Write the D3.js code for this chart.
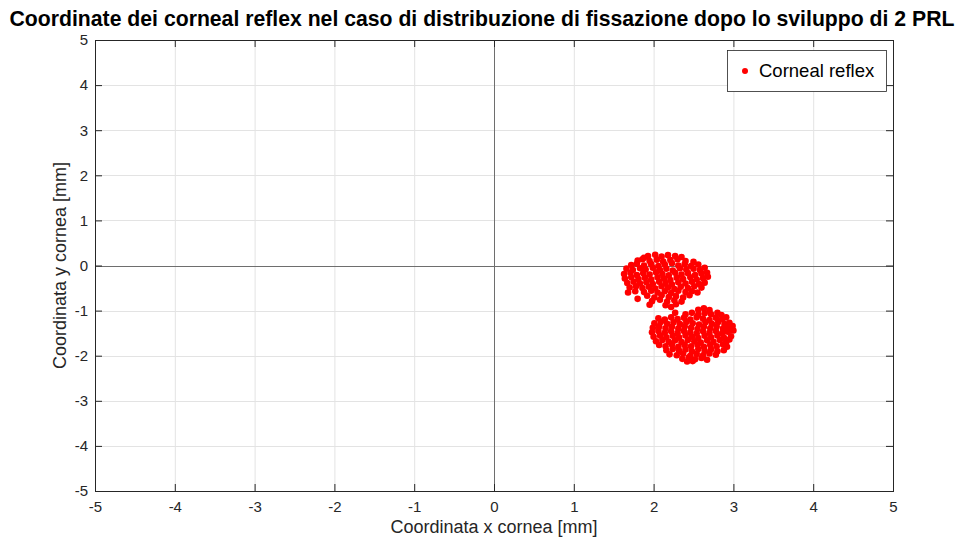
<!DOCTYPE html>
<html><head><meta charset="utf-8">
<script src="https://cdn.jsdelivr.net/npm/d3@7"></script>
<style>body{margin:0;background:#fff}svg{display:block}text{font-family:"Liberation Sans",Arial,Helvetica,sans-serif}</style>
</head><body>
<script>
const titleText = "Coordinate dei corneal reflex nel caso di distribuzione di fissazione dopo lo sviluppo di 2 PRL";
const xLabel = "Coordinata x cornea [mm]";
const yLabel = "Coordinata y cornea [mm]";
const legendLabel = "Corneal reflex";
const xTicks = [-5,-4,-3,-2,-1,0,1,2,3,4,5];
const yTicks = [-5,-4,-3,-2,-1,0,1,2,3,4,5];

const cluster1 = [
[1.93,0.21],[2.02,0.24],[2.10,0.20],[2.18,0.23],[2.27,0.21],[2.35,0.19],[1.88,0.17],
[1.80,0.11],[1.86,0.14],[1.95,0.10],[2.04,0.13],[2.12,0.09],[2.21,0.12],[2.30,0.14],[2.40,0.10],[2.50,0.08],
[1.72,0.01],[1.79,0.04],[1.88,0.00],[1.97,0.03],[2.06,-0.01],[2.14,0.02],[2.23,0.05],[2.31,0.00],[2.39,0.03],[2.47,-0.01],[2.56,0.02],
[1.66,-0.07],[1.74,-0.10],[1.83,-0.06],[1.90,-0.09],[1.99,-0.05],[2.08,-0.10],[2.16,-0.07],[2.24,-0.11],[2.33,-0.06],[2.41,-0.09],[2.50,-0.07],[2.58,-0.10],[2.64,-0.05],
[1.63,-0.19],[1.71,-0.16],[1.79,-0.21],[1.87,-0.17],[1.95,-0.20],[2.03,-0.15],[2.11,-0.19],[2.19,-0.22],[2.27,-0.16],[2.35,-0.20],[2.43,-0.17],[2.52,-0.21],[2.60,-0.18],[2.67,-0.16],
[1.64,-0.29],[1.72,-0.26],[1.81,-0.30],[1.89,-0.27],[1.97,-0.31],[2.05,-0.26],[2.13,-0.29],[2.21,-0.32],[2.29,-0.27],[2.37,-0.30],[2.46,-0.26],[2.54,-0.31],[2.62,-0.28],[2.68,-0.25],
[1.67,-0.39],[1.75,-0.36],[1.83,-0.40],[1.91,-0.37],[1.99,-0.41],[2.07,-0.36],[2.15,-0.39],[2.23,-0.42],[2.31,-0.37],[2.40,-0.40],[2.48,-0.36],[2.57,-0.41],[2.64,-0.38],
[1.70,-0.49],[1.78,-0.46],[1.86,-0.50],[1.94,-0.47],[2.02,-0.51],[2.10,-0.46],[2.18,-0.49],[2.26,-0.52],[2.34,-0.47],[2.43,-0.50],[2.51,-0.46],[2.60,-0.49],
[1.68,-0.60],[1.77,-0.57],[1.88,-0.59],[1.97,-0.56],[2.05,-0.60],[2.14,-0.57],[2.22,-0.61],[2.31,-0.56],[2.40,-0.59],[2.48,-0.57],[2.55,-0.60],
[1.80,-0.74],[1.92,-0.67],[2.01,-0.71],[2.10,-0.66],[2.19,-0.70],[2.28,-0.68],[2.37,-0.71],[2.45,-0.66],
[1.98,-0.79],[2.08,-0.76],[2.17,-0.80],[2.26,-0.77],[2.35,-0.80],
[1.95,-0.87],[2.15,-0.88],[2.28,-0.86],[2.22,-0.92]
];

const cluster2 = [
[2.56,-0.98],[2.63,-0.95],[2.70,-0.99],
[2.27,-1.05],[2.40,-1.08],[2.48,-1.05],[2.56,-1.09],[2.64,-1.06],[2.72,-1.08],[2.80,-1.05],[2.85,-1.10],
[2.06,-1.17],[2.14,-1.20],[2.22,-1.15],[2.30,-1.19],[2.38,-1.16],[2.46,-1.20],[2.54,-1.15],[2.62,-1.18],[2.70,-1.21],[2.78,-1.16],[2.86,-1.19],[2.91,-1.15],
[2.01,-1.28],[2.09,-1.25],[2.17,-1.29],[2.25,-1.26],[2.33,-1.30],[2.41,-1.25],[2.49,-1.28],[2.57,-1.31],[2.65,-1.26],[2.73,-1.29],[2.81,-1.25],[2.89,-1.30],[2.95,-1.27],
[1.99,-1.38],[2.07,-1.35],[2.15,-1.39],[2.23,-1.36],[2.31,-1.40],[2.39,-1.35],[2.47,-1.38],[2.55,-1.41],[2.63,-1.36],[2.71,-1.39],[2.79,-1.35],[2.87,-1.40],[2.94,-1.37],[2.99,-1.34],
[1.98,-1.48],[2.06,-1.45],[2.14,-1.49],[2.22,-1.46],[2.30,-1.50],[2.38,-1.45],[2.46,-1.48],[2.54,-1.51],[2.62,-1.46],[2.70,-1.49],[2.78,-1.45],[2.86,-1.50],[2.93,-1.47],[3.00,-1.44],
[2.00,-1.58],[2.08,-1.55],[2.16,-1.59],[2.24,-1.56],[2.32,-1.60],[2.40,-1.55],[2.48,-1.58],[2.56,-1.61],[2.64,-1.56],[2.72,-1.59],[2.80,-1.55],[2.88,-1.60],[2.97,-1.57],
[2.03,-1.68],[2.11,-1.65],[2.19,-1.69],[2.27,-1.66],[2.35,-1.70],[2.43,-1.65],[2.51,-1.68],[2.59,-1.71],[2.67,-1.66],[2.75,-1.69],[2.83,-1.65],[2.91,-1.70],[2.95,-1.64],
[2.07,-1.76],[2.15,-1.79],[2.23,-1.75],[2.31,-1.80],[2.39,-1.76],[2.47,-1.79],[2.55,-1.75],[2.63,-1.80],[2.71,-1.76],[2.79,-1.79],[2.87,-1.75],[2.92,-1.80],
[2.16,-1.88],[2.24,-1.85],[2.32,-1.89],[2.40,-1.86],[2.48,-1.90],[2.56,-1.85],[2.64,-1.89],[2.72,-1.86],[2.80,-1.90],[2.88,-1.88],
[2.20,-1.97],[2.29,-1.99],[2.37,-1.95],[2.46,-2.00],[2.54,-1.96],[2.62,-1.99],[2.70,-1.95],[2.78,-1.98],
[2.36,-2.07],[2.44,-2.04],[2.52,-2.08],[2.60,-2.05],[2.67,-2.09],
[2.42,-2.13],[2.49,-2.12]
];

const W = 962, H = 537;
const m = {left:95, right:69, top:40, bottom:46};
const iw = W - m.left - m.right, ih = H - m.top - m.bottom;
const axisCol = "#262626";

const svg = d3.select("body").append("svg").attr("width", W).attr("height", H);
const x = d3.scaleLinear().domain([-5,5]).range([m.left, m.left+iw]);
const y = d3.scaleLinear().domain([-5,5]).range([m.top+ih, m.top]);

// grid
const g = svg.append("g");
g.selectAll(".gx").data(xTicks).join("line")
  .attr("x1", d=>x(d)+0.5).attr("x2", d=>x(d)+0.5).attr("y1", m.top).attr("y2", m.top+ih)
  .attr("stroke", "#e3e3e3").attr("stroke-width", 1);
g.selectAll(".gy").data(yTicks).join("line")
  .attr("y1", d=>Math.round(y(d))+0.5).attr("y2", d=>Math.round(y(d))+0.5).attr("x1", m.left).attr("x2", m.left+iw)
  .attr("stroke", "#e3e3e3").attr("stroke-width", 1);

// zero lines
svg.append("line").attr("x1", x(0)+0.5).attr("x2", x(0)+0.5).attr("y1", m.top).attr("y2", m.top+ih)
  .attr("stroke", "#6e6e6e").attr("stroke-width", 1);
svg.append("line").attr("y1", Math.round(y(0))+0.5).attr("y2", Math.round(y(0))+0.5).attr("x1", m.left).attr("x2", m.left+iw)
  .attr("stroke", "#6e6e6e").attr("stroke-width", 1);

// axes
const tl = 7;
const fmt = d => String(d);
const xAxisB = d3.axisBottom(x).tickValues(xTicks).tickSize(-tl).tickPadding(10).tickFormat(fmt);
const xAxisT = d3.axisTop(x).tickValues(xTicks).tickSize(-tl).tickFormat("");
const yAxisL = d3.axisLeft(y).tickValues(yTicks).tickSize(-tl).tickPadding(7).tickFormat(fmt);
const yAxisR = d3.axisRight(y).tickValues(yTicks).tickSize(-tl).tickFormat("");

function style(sel){
  sel.select(".domain").attr("stroke", axisCol);
  sel.selectAll(".tick line").attr("stroke", axisCol);
  sel.selectAll(".tick text").attr("fill", axisCol).style("font-size","15px")
     .style("font-family",'"Liberation Sans",Arial,sans-serif');
}
svg.append("g").attr("transform", `translate(0,${m.top+ih})`).call(xAxisB).call(style);
svg.append("g").attr("transform", `translate(0,${m.top})`).call(xAxisT).call(style);
svg.append("g").attr("transform", `translate(${m.left},0)`).call(yAxisL).call(style);
svg.append("g").attr("transform", `translate(${m.left+iw},0)`).call(yAxisR).call(style);
svg.selectAll(".domain").attr("d", null);
svg.append("rect").attr("x", m.left+0.5).attr("y", m.top+0.5).attr("width", iw).attr("height", ih)
  .attr("fill","none").attr("stroke", axisCol).attr("stroke-width",1);

// points
const pts = cluster1.concat(cluster2);
svg.append("g").selectAll("circle").data(pts).join("circle")
  .attr("cx", d=>x(d[0])).attr("cy", d=>y(d[1])).attr("r", 3.3).attr("fill", "#ff0000");

// title
const t = svg.append("text").attr("x", 482).attr("y", 26).attr("text-anchor","middle")
  .style("font-weight","bold").style("font-size","18px").attr("fill","#000").text(titleText);
const tw = t.node().getComputedTextLength();
t.style("font-size", (18*945/tw).toFixed(2)+"px");

// axis labels
svg.append("text").attr("x", x(0)).attr("y", 533).attr("text-anchor","middle")
  .style("font-size","18px").attr("fill", axisCol).text(xLabel);
svg.append("text").attr("transform", `translate(66,${y(0)}) rotate(-90)`).attr("text-anchor","middle")
  .style("font-size","18px").attr("fill", axisCol).text(yLabel);

// legend
const lg = svg.append("g");
lg.append("rect").attr("x", 727.5).attr("y", 50.5).attr("width", 159).attr("height", 41)
  .attr("fill","#fff").attr("stroke", axisCol).attr("stroke-width", 0.8);
lg.append("circle").attr("cx", 745).attr("cy", 71).attr("r", 3).attr("fill","#ff0000");
lg.append("text").attr("x", 759).attr("y", 77).style("font-size","18.5px").attr("fill","#000").text(legendLabel);
</script>
</body></html>
